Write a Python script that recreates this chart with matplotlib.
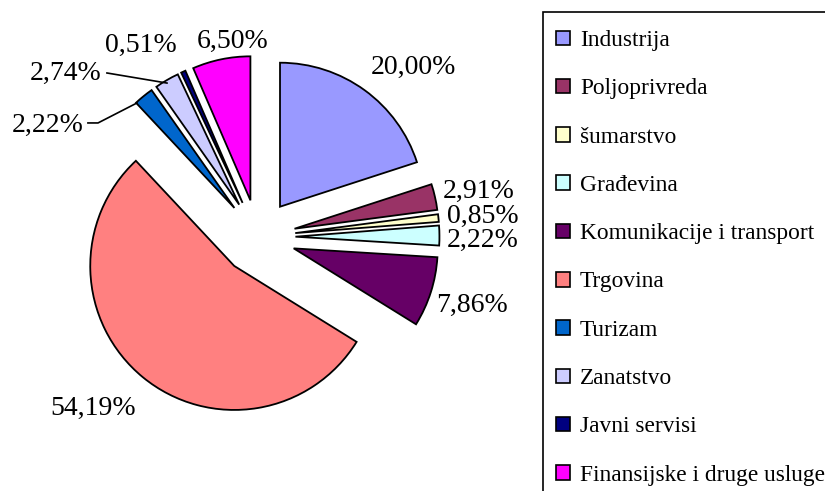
import matplotlib
matplotlib.use("Agg")
import matplotlib.pyplot as plt
from matplotlib.patches import Patch, Rectangle

sektori = ["Industrija", "Poljoprivreda", "šumarstvo", "Građevina",
           "Komunikacije i transport", "Trgovina", "Turizam", "Zanatstvo",
           "Javni servisi", "Finansijske i druge usluge"]
udjeli = [20.00, 2.91, 0.85, 2.22, 7.86, 54.19, 2.22, 2.74, 0.51, 6.50]
boje = ["#9999FF", "#993366", "#FFFFCC", "#CCFFFF", "#660066",
        "#FF8080", "#0066CC", "#CCCCFF", "#000080", "#FF00FF"]

# label positions (data units, pie radius = 1)
lab_pos = [(1.076, 1.181), (1.535, 0.315), (1.5625, 0.14), (1.5625, -0.025),
           (1.486, -0.472), (-1.146, -1.19), (-1.458, 0.778), (-1.333, 1.139),
           (-0.8125, 1.333), (-0.174, 1.361)]

plt.rcParams['font.family'] = ['Liberation Serif', 'DejaVu Serif']

fig = plt.figure(figsize=(8.25, 4.91), dpi=100)
ax = fig.add_axes([0, 0, 1, 1])
cx, cy, R = 258, 237, 144

wedges, _ = ax.pie(udjeli, colors=boje, startangle=90, counterclock=False,
                   explode=[0.26] * len(udjeli), radius=1,
                   wedgeprops=dict(edgecolor='black', linewidth=1.3))
ax.set_xlim(-cx / R, (825 - cx) / R)
ax.set_ylim(-(491 - cy) / R, cy / R)
ax.set_aspect('equal')
ax.axis('off')

for v, (x, y) in zip(udjeli, lab_pos):
    ax.text(x, y, ("%.2f%%" % v).replace(".", ","), ha='center', va='center',
            fontsize=20)

# leader lines for Turizam and Zanatstvo
ax.plot([-1.181, -1.111, -0.840], [0.792, 0.792, 0.931], color='black', lw=1.2)
ax.plot([-1.049, -0.632], [1.139, 1.069], color='black', lw=1.2)

# legend box (cut off at right/bottom edge as in original)
fig.patches.append(Rectangle((543 / 825, -0.1), 0.5, 1.1 - 12 / 491,
                             transform=fig.transFigure, fill=False,
                             edgecolor='black', lw=1.2, clip_on=False))
handles = [Patch(facecolor=c, edgecolor='black', lw=1.2) for c in boje]
fig.legend(handles, sektori, loc='upper left', bbox_to_anchor=(556 / 825, 1 - 30 / 491),
           frameon=False, fontsize=16.8, handlelength=0.58, handleheight=0.58,
           handletextpad=0.45, labelspacing=1.17, borderaxespad=0, borderpad=0)

fig.savefig("out.png", dpi=100)
